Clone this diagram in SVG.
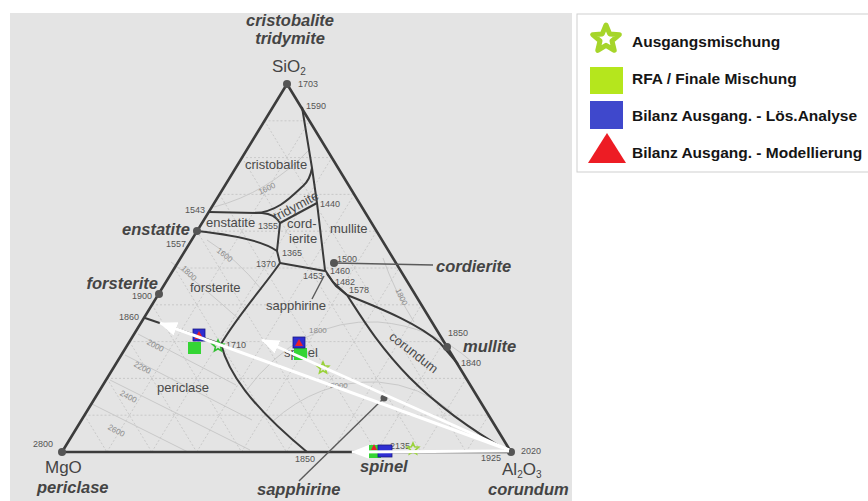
<svg xmlns="http://www.w3.org/2000/svg" width="868" height="501" viewBox="0 0 868 501">
<defs>
<style>
.big{font-family:"Liberation Sans",Arial,sans-serif;font-style:italic;font-weight:bold;font-size:16.5px;fill:#444}
.fld{font-family:"Liberation Sans",Arial,sans-serif;font-size:13px;fill:#4a4a4a}
.num{font-family:"Liberation Sans",Arial,sans-serif;font-size:9px;fill:#555}
.iso{font-family:"Liberation Sans",Arial,sans-serif;font-size:8px;fill:#8a8a8a}
.ox{font-family:"Liberation Sans",Arial,sans-serif;font-size:17px;fill:#444}
.leg{font-family:"Liberation Sans",Arial,sans-serif;font-size:15.5px;font-weight:bold;fill:#151515}
.grid{stroke:#c2c2c2;stroke-width:0.8;stroke-dasharray:2 2;fill:none}
.isoL{stroke:#c9c9c9;stroke-width:1;fill:none}
.edge{stroke:#3c3c3c;stroke-width:2.6;fill:none;stroke-linejoin:round}
.bnd{stroke:#3a3a3a;stroke-width:2;fill:none}
.lead{stroke:#5a5a5a;stroke-width:1.4;fill:none}
.dot{fill:#555}
.arr{stroke:#fff;stroke-width:3;fill:none;marker-end:url(#ah)}
.blue{fill:#2e2ed2;stroke:#1a1a80;stroke-width:0.8}
.green{fill:#34d534}
.red{fill:#e8202a}
.st1{fill:none;stroke:#33c033;stroke-width:1.6}
.st2{fill:none;stroke:#9ad23a;stroke-width:1.6}
</style>
<marker id="ah" viewBox="0 0 18 14" refX="17" refY="7" markerWidth="18" markerHeight="14" markerUnits="userSpaceOnUse" orient="auto">
<path d="M0,0 L18,7 L0,14 z" fill="#fff"/>
</marker>
<path id="star" d="M0,-6 L1.59,-2.18 L5.71,-1.85 L2.57,0.83 L3.53,4.85 L0,2.7 L-3.53,4.85 L-2.57,0.83 L-5.71,-1.85 L-1.59,-2.18 Z"/>
</defs>

<rect x="0" y="0" width="868" height="501" fill="#fff"/>
<rect id="panel" x="10" y="13" width="562" height="488" fill="#e4e4e4"/>

<!-- grid -->
<g id="grid" class="grid">
<path d="M84.5,415.2H488.6M107,378.4H466.2M129.5,341.6H443.8M152,304.8H421.4M174.5,268H399M197,231.2H376.6M219.5,194.4H354.2M242,157.6H331.8M264.5,120.8H309.4"/>
<path d="M106.9,452L309.4,120.8M151.8,452L331.8,157.6M196.7,452L354.2,194.4M241.6,452L376.6,231.2M286.5,452L399,268M331.4,452L421.4,304.8M376.3,452L443.8,341.6M421.2,452L466.2,378.4M466.1,452L488.6,415.2"/>
<path d="M84.5,415.2L106.9,452M107,378.4L151.8,452M129.5,341.6L196.7,452M152,304.8L241.6,452M174.5,268L286.5,452M197,231.2L331.4,452M219.5,194.4L376.3,452M242,157.6L421.2,452M264.5,120.8L466.1,452"/>
</g>

<!-- isotherms -->
<g id="isotherms" class="isoL">
<path d="M214,207 Q268,193 309,150"/>
<path d="M207,240 Q236,258 262,290"/>
<path d="M171,262 Q202,286 240,320"/>
<path d="M138,334 L236,385"/>
<path d="M125,355 L252,420"/>
<path d="M110,380 L250,450"/>
<path d="M92,404 L188,452"/>
<path d="M245,392 Q300,318 378,322 Q432,326 472,362"/>
<path d="M272,422 Q318,380 378,382 Q420,385 452,412"/>
<path d="M383,258 Q394,290 414,322"/>
</g>

<!-- triangle edges -->
<g id="triangle">
<path class="edge" d="M287,84 L62,452 L511,452 Z"/>
</g>

<!-- boundary curves -->
<g id="connectors">
<path class="bnd" d="M302,107 L312,168 L317,203 L325,270"/>
<path class="bnd" d="M209,212 L262,213 Q275,214 280,223"/>
<path class="bnd" d="M255,213 C278,212 292,196 303,186 Q310,180 312,168"/>
<path class="bnd" d="M280,223 L317,203"/>
<path class="bnd" d="M280,223 L277,251 L280,263"/>
<path class="bnd" d="M197,231 C225,234 262,240 277,251"/>
<path class="bnd" d="M280,263 L325,271"/>
<path class="bnd" d="M280,263 C265,285 238,315 221,344 C228,372 250,405 307,452"/>
<path class="bnd" d="M145,318 L221,344"/>
<path class="bnd" d="M325,270 L333,282 L347,295"/>
<path class="bnd" d="M327,274 L336,286 L347,295"/>
<path class="bnd" d="M347,295 C385,310 420,325 440,343 L458,364"/>
<path class="bnd" d="M347,295 C362,318 378,345 410,378 C440,408 475,432 508,451"/>
<path class="lead" d="M334,263 L433,265"/>
<path class="lead" d="M324,276 L312,299"/>
<path class="lead" d="M384,398 L299,481"/>
</g>

<!-- vertex and compound dots -->
<g id="points">
<circle class="dot" cx="287" cy="84" r="4"/>
<circle class="dot" cx="197" cy="231" r="4"/>
<circle class="dot" cx="159" cy="294" r="4"/>
<circle class="dot" cx="334" cy="263" r="4"/>
<circle class="dot" cx="447" cy="347" r="4"/>
<circle class="dot" cx="62" cy="452" r="4"/>
<circle class="dot" cx="511" cy="452" r="4"/>
<circle class="dot" cx="384" cy="398" r="3.5"/>
</g>

<!-- labels -->
<g id="labels">
<text class="big" x="290" y="26" text-anchor="middle">cristobalite</text>
<text class="big" x="290" y="44" text-anchor="middle">tridymite</text>
<text class="ox" x="272" y="72">SiO<tspan font-size="10" dy="3">2</tspan></text>
<text class="num" x="298" y="87">1703</text>
<text class="num" x="306" y="109">1590</text>
<text class="fld" x="245" y="169">cristobalite</text>
<text class="iso" transform="translate(268,191) rotate(-25)" text-anchor="middle">1600</text>
<text class="fld" font-size="11" transform="translate(298,210) rotate(-28)" text-anchor="middle">tridymite</text>
<text class="num" x="185" y="213">1543</text>
<text class="num" x="320" y="207">1440</text>
<text class="fld" x="206" y="227">enstatite</text>
<text class="num" x="258" y="229">1355</text>
<text class="fld" x="287" y="228">cord-</text>
<text class="fld" x="289" y="243">ierite</text>
<text class="fld" x="330" y="233">mullite</text>
<text class="big" x="122" y="235">enstatite</text>
<text class="num" x="166" y="247">1557</text>
<text class="num" x="282" y="256">1365</text>
<text class="num" x="256" y="267">1370</text>
<text class="num" x="337" y="262">1500</text>
<text class="num" x="330" y="274">1460</text>
<text class="num" x="303" y="279">1453</text>
<text class="num" x="335" y="285">1482</text>
<text class="num" x="349" y="293">1578</text>
<text class="big" x="436" y="272">cordierite</text>
<text class="big" x="158" y="289" text-anchor="end">forsterite</text>
<text class="num" x="132" y="299">1900</text>
<text class="fld" x="190" y="292">forsterite</text>
<text class="iso" transform="translate(223,257) rotate(38)" text-anchor="middle">1600</text>
<text class="iso" transform="translate(187,275) rotate(45)" text-anchor="middle">1800</text>
<text class="fld" x="266" y="310">sapphirine</text>
<text class="num" x="119" y="320">1860</text>
<text class="iso" x="309" y="333">1800</text>
<text class="num" x="226" y="348">1710</text>
<text class="fld" x="284" y="357">spinel</text>
<text class="iso" transform="translate(154,348) rotate(28)" text-anchor="middle">2000</text>
<text class="iso" transform="translate(141,370) rotate(28)" text-anchor="middle">2200</text>
<text class="iso" transform="translate(127,399) rotate(28)" text-anchor="middle">2400</text>
<text class="iso" transform="translate(115,433) rotate(28)" text-anchor="middle">2600</text>
<text class="fld" x="157" y="392">periclase</text>
<text class="num" x="33" y="447">2800</text>
<text class="ox" x="45" y="473">MgO</text>
<text class="big" x="37" y="493">periclase</text>
<text class="iso" transform="translate(399,298) rotate(65)" text-anchor="middle">1800</text>
<text class="fld" transform="translate(411,356) rotate(38)" text-anchor="middle">corundum</text>
<text class="num" x="448" y="336">1850</text>
<text class="big" x="463" y="352">mullite</text>
<text class="num" x="461" y="366">1840</text>
<text class="iso" x="330" y="388">2000</text>
<text class="num" x="390" y="449">2135</text>
<text class="num" x="295" y="462">1850</text>
<text class="num" x="481" y="461">1925</text>
<text class="num" x="521" y="454">2020</text>
<text class="big" x="360" y="472">spinel</text>
<text class="ox" x="502" y="475">Al<tspan font-size="10" dy="2.5">2</tspan><tspan dy="-2.5">O</tspan><tspan font-size="10" dy="2.5">3</tspan></text>
<text class="big" x="488" y="495">corundum</text>
<text class="big" x="257" y="495">sapphirine</text>
</g>

<!-- data markers -->
<g id="set-forsterite">
<rect class="green" x="188" y="342" width="13" height="12"/>
<rect class="blue" x="193" y="329" width="12" height="12"/>
<path class="red" d="M199,331 L194.5,339 L203.5,339 Z"/>
<use href="#star" class="st1" x="218" y="346"/>
</g>
<g id="set-spinel">
<rect class="green" x="294" y="348" width="13" height="12"/>
<rect class="blue" x="293" y="337" width="12" height="11"/>
<path class="red" d="M299,339 L295,346 L303,346 Z"/>
<use href="#star" class="st2" x="323" y="368"/>
</g>
<g id="set-edge">
<rect class="green" x="369" y="445" width="12" height="13"/>
<rect class="blue" x="378" y="445" width="14" height="12"/>
<path class="red" d="M374,444 L371,450 L377,450 Z"/>
<use href="#star" class="st2" x="413" y="449"/>
</g>

<!-- white arrows -->
<g id="arrows">
<path class="arr" d="M509,450 L160,323"/>
<path class="arr" d="M509,450 L262,340"/>
<path class="arr" d="M509,451 L352,452"/>
</g>

<!-- legend -->
<g id="legend">
<rect x="577" y="14" width="300" height="158" fill="#fff" stroke="#cfcfcf" stroke-width="1"/>
<path d="M606,25 L609.7,33.9 L619.32,34.67 L611.99,40.95 L614.23,50.33 L606,45.3 L597.77,50.33 L600.01,40.95 L592.68,34.67 L602.3,33.9 Z" fill="#fff" stroke="#a6d52a" stroke-width="5" stroke-linejoin="round"/>
<text class="leg" x="632" y="47">Ausgangsmischung</text>
<rect x="590" y="67" width="33" height="27" fill="#b5e61d"/>
<text class="leg" x="632" y="84">RFA / Finale Mischung</text>
<rect x="590" y="101" width="33" height="28" fill="#3f48cc"/>
<text class="leg" x="632" y="121">Bilanz Ausgang. - Lös.Analyse</text>
<path d="M588,163 L607,133 L626,163 Z" fill="#ed1c24"/>
<text class="leg" x="632" y="158">Bilanz Ausgang. - Modellierung</text>
</g>
</svg>
